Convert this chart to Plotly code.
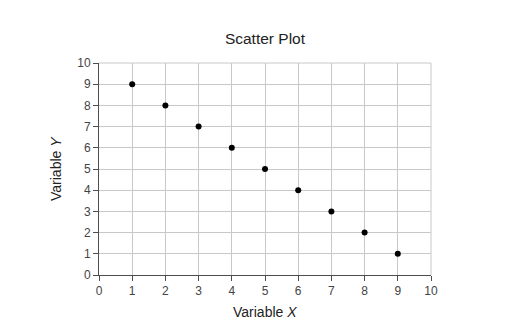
import plotly.graph_objects as go

x_vals = [1, 2, 3, 4, 5, 6, 7, 8, 9]
y_vals = [9, 8, 7, 6, 5, 4, 3, 2, 1]
tick_vals = list(range(0, 11))

FONT = "Liberation Sans, Arial"

fig = go.Figure()
fig.add_trace(go.Scatter(
    x=x_vals, y=y_vals, mode="markers",
    marker=dict(color="black", size=6),
    showlegend=False,
))

axis_common = dict(
    range=[0, 10],
    tickvals=tick_vals,
    showgrid=True,
    gridcolor="#c8c8c8",
    gridwidth=1,
    showline=True,
    linecolor="#4d4d4d",
    linewidth=1,
    ticks="outside",
    ticklen=5,
    tickcolor="#4d4d4d",
    tickfont=dict(family=FONT, size=12, color="#444444"),
    zeroline=False,
    fixedrange=True,
    automargin=False,
)

fig.update_layout(
    width=521, height=323,
    margin=dict(l=99, r=90, t=63, b=48),
    paper_bgcolor="white",
    plot_bgcolor="white",
    title=dict(text="Scatter Plot", x=0.5086, xanchor="center", y=0.882, yanchor="middle",
               font=dict(family=FONT, size=15.5, color="#222222")),
    xaxis=dict(**axis_common),
    yaxis=dict(**axis_common),
    annotations=[
        dict(text="Variable <i>X</i>", xref="paper", yref="paper", x=0.5, y=0,
             xanchor="center", yanchor="middle", yshift=-37, showarrow=False,
             font=dict(family=FONT, size=14, color="#222222")),
        dict(text="Variable <i>Y</i>", xref="paper", yref="paper", x=0, y=0.5,
             xanchor="center", yanchor="middle", xshift=-43, textangle=-90, showarrow=False,
             font=dict(family=FONT, size=14, color="#222222")),
    ],
    shapes=[
        dict(type="line", xref="paper", yref="paper", x0=0, x1=1, y0=1, y1=1,
             line=dict(color="#c8c8c8", width=1)),
        dict(type="line", xref="paper", yref="paper", x0=1, x1=1, y0=0, y1=1,
             line=dict(color="#c8c8c8", width=1)),
    ],
)

fig.write_html("out.html")
